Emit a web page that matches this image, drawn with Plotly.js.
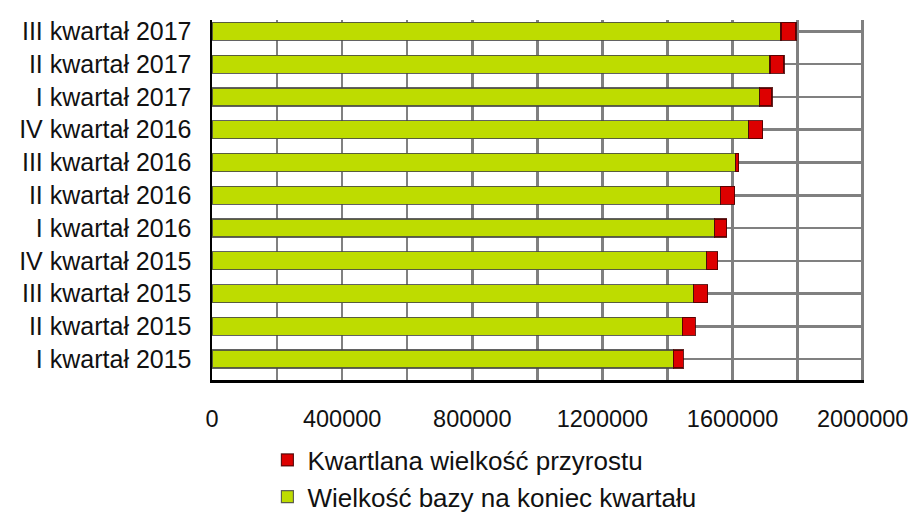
<!DOCTYPE html>
<html>
<head>
<meta charset="utf-8">
<script src="https://cdn.plot.ly/plotly-3.0.1.min.js"></script>
<style>html,body{margin:0;padding:0;background:#fff;}#chart{width:917px;height:513px;}</style>
</head>
<body>
<div id="chart"></div>
<script>
const categories = ["I kwartał 2015","II kwartał 2015","III kwartał 2015","IV kwartał 2015",
  "I kwartał 2016","II kwartał 2016","III kwartał 2016","IV kwartał 2016",
  "I kwartał 2017","II kwartał 2017","III kwartał 2017"];
const baseValues = [1418000,1446000,1480000,1520000,1545000,1563000,1610000,1650000,1684000,1715000,1749000];
const growthValues = [31000,40000,43000,34000,37000,43000,9000,43000,37000,43000,46000];
const xTicks = [0,400000,800000,1200000,1600000,2000000];
const xTickText = ["0","400000","800000","1200000","1600000","2000000"];
const minorTicks = [200000,600000,1000000,1400000,1800000];
const seriesNames = ["Wielkość bazy na koniec kwartału","Kwartlana wielkość przyrostu"];

const fam = "Liberation Sans, Arial, sans-serif";
const data = [
  {type:"bar", orientation:"h", y:categories, x:baseValues, name:seriesNames[0],
   legendgroup:"a", legendrank:2,
   marker:{color:"#BEDC00", line:{color:"rgba(70,70,70,0.85)", width:1.2}}},
  {type:"bar", orientation:"h", y:categories, x:growthValues, name:seriesNames[1],
   legendgroup:"b", legendrank:1,
   marker:{color:"#DD0000", line:{color:"rgba(70,0,0,0.85)", width:1.2}}}
];
const layout = {
  width:917, height:513,
  margin:{l:212, r:53, t:20, b:133, autoexpand:false},
  barmode:"stack", bargap:0.45,
  paper_bgcolor:"#fff", plot_bgcolor:"#fff",
  font:{family:fam, size:24, color:"#111"},
  showlegend:true,
  legend:{x:0.085, y:-0.157, xanchor:"left", yanchor:"top", traceorder:"grouped",
          tracegroupgap:0, font:{family:fam, size:26, color:"#111"}, bgcolor:"rgba(0,0,0,0)"},
  xaxis:{range:[0,2004000], tickvals:xTicks, ticktext:xTickText, showgrid:true,
         gridcolor:"#808080", gridwidth:2.5, zeroline:false, showline:true, linecolor:"#000", linewidth:2.5,
         ticks:"", ticklabelstandoff:16, tickfont:{family:fam, size:23.5, color:"#111"},
         minor:{tickvals:minorTicks, showgrid:true, gridcolor:"#808080", gridwidth:2.5},
         fixedrange:true},
  yaxis:{type:"category", range:[-0.64,10.35], showgrid:true, gridcolor:"#808080", gridwidth:2.5,
         showline:true, linecolor:"#000", linewidth:2.5, ticks:"", ticklabelstandoff:13,
         tickfont:{family:fam, size:25, color:"#111"}, fixedrange:true},
};
Plotly.newPlot("chart", data, layout, {displayModeBar:false, staticPlot:true});
</script>
</body>
</html>
